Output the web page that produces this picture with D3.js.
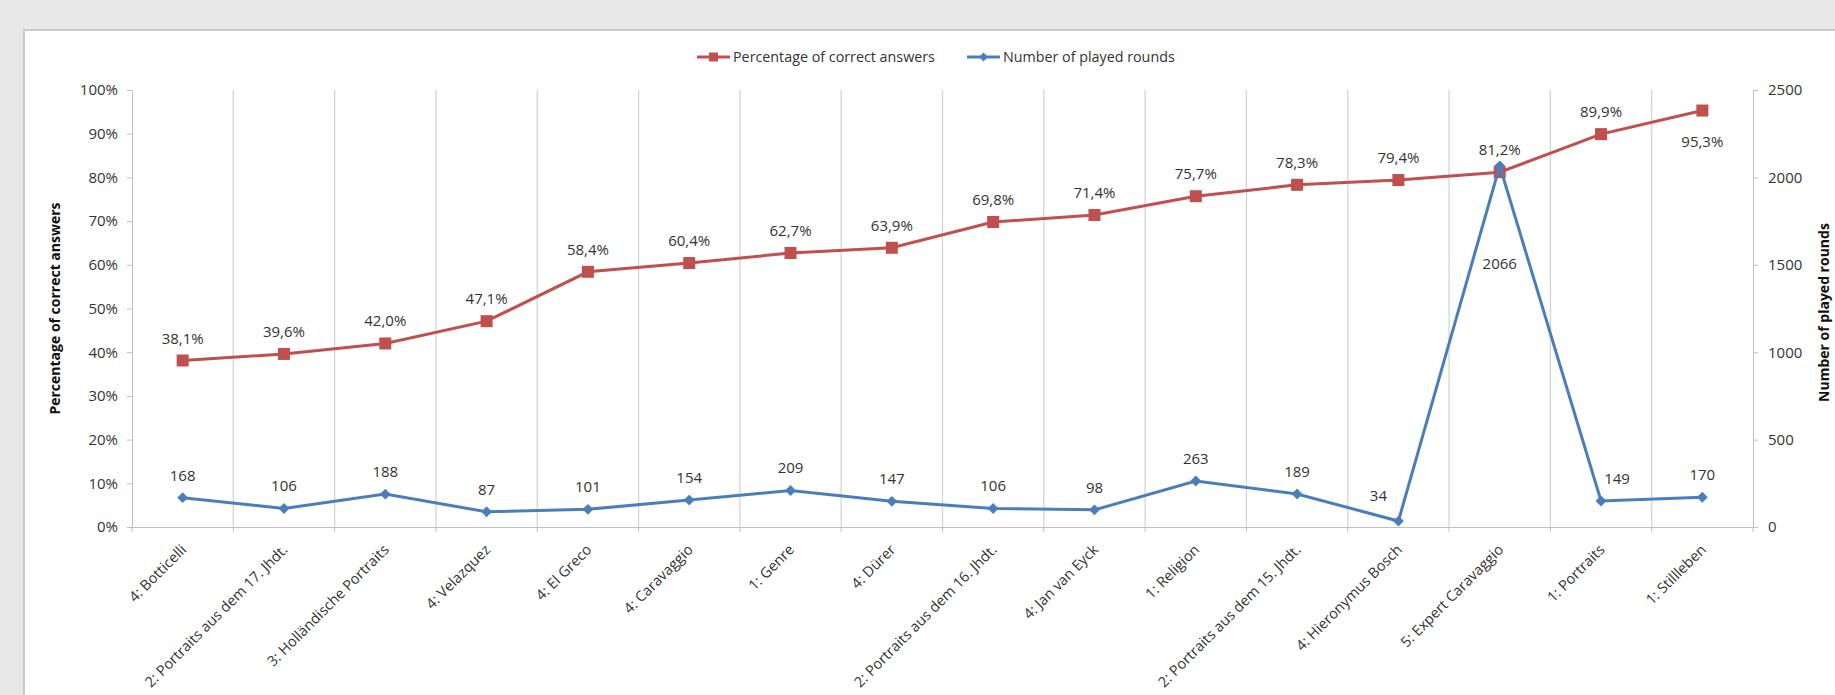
<!DOCTYPE html>
<html lang="en">
    <head>
        <title>Percentage of correct answers and number of played rounds</title>
        <meta charset="utf-8">
    </head>
    <body>
        <svg id="chart" width="1835" height="695"></svg>
    </body>
    <script src="https://d3js.org/d3.v7.min.js"></script>
    <style>
        body {
            margin: 0;
            background: #e8e8e8;
            font-family: 'Open Sans', sans-serif;
        }
        svg { display: block; }
        text {
            font-family: 'Open Sans', sans-serif;
            font-size: 14.5px;
            fill: #333;
        }
        .axis path, .axis line {
            stroke: #bfbfbf;
        }
        .axis text {
            font-size: 15px;
        }
        .axis.bottom text {
            font-size: 14.5px;
        }
        .grid line {
            stroke: #d4d4d4;
            stroke-width: 1.3;
        }
        text.title {
            font-weight: bold;
            font-size: 14px;
            fill: #111;
        }
        text.value {
            font-size: 15px;
            text-anchor: middle;
        }
        text.legend {
            font-size: 14.3px;
        }
    </style>
    <script>
        const categories = [
            '4: Botticelli', '2: Portraits aus dem 17. Jhdt.', '3: Holländische Portraits',
            '4: Velazquez', '4: El Greco', '4: Caravaggio', '1: Genre', '4: Dürer',
            '2: Portraits aus dem 16. Jhdt.', '4: Jan van Eyck', '1: Religion',
            '2: Portraits aus dem 15. Jhdt.', '4: Hieronymus Bosch', '5: Expert Caravaggio',
            '1: Portraits', '1: Stillleben'
        ];
        const correctPct = [38.1, 39.6, 42.0, 47.1, 58.4, 60.4, 62.7, 63.9,
                            69.8, 71.4, 75.7, 78.3, 79.4, 81.2, 89.9, 95.3];
        const playedRounds = [168, 106, 188, 87, 101, 154, 209, 147,
                              106, 98, 263, 189, 34, 2066, 149, 170];
        const pctTicks = [0, 10, 20, 30, 40, 50, 60, 70, 80, 90, 100];
        const roundTicks = [0, 500, 1000, 1500, 2000, 2500];

        const red = '#c0504d';
        const blue = '#4a7ebb';

        const svg = d3.select('#chart');

        // white card with a light border
        svg.append('rect')
            .attr('x', 24).attr('y', 30)
            .attr('width', 1835).attr('height', 700)
            .attr('fill', '#fff')
            .attr('stroke', '#cacaca')
            .attr('stroke-width', 2);

        const plotLeft = 132, plotRight = 1753, plotTop = 90, plotBottom = 527;

        const x = d3.scaleBand().domain(categories).range([plotLeft, plotRight]).padding(0);
        const yPct = d3.scaleLinear().domain([0, 100]).range([plotBottom, plotTop]);
        const yRounds = d3.scaleLinear().domain([0, 2500]).range([plotBottom, plotTop]);

        // vertical grid lines at category boundaries
        const bounds = categories.map(c => x(c)).concat([plotRight]);
        svg.append('g').attr('class', 'grid')
            .selectAll('line')
            .data(bounds.slice(1, -1))
            .enter().append('line')
            .attr('x1', d => d).attr('x2', d => d)
            .attr('y1', plotTop).attr('y2', plotBottom);

        // left axis
        const leftAxis = svg.append('g').attr('class', 'axis')
            .attr('transform', `translate(${plotLeft},0)`)
            .call(d3.axisLeft(yPct).tickValues(pctTicks).tickSize(5).tickSizeOuter(0)
                .tickFormat(d => d + '%'));
        leftAxis.selectAll('text').attr('x', -14);

        // right axis
        const rightAxis = svg.append('g').attr('class', 'axis')
            .attr('transform', `translate(${plotRight},0)`)
            .call(d3.axisRight(yRounds).tickValues(roundTicks).tickSize(5).tickSizeOuter(0)
                .tickFormat(d3.format('d')));
        rightAxis.selectAll('text').attr('x', 15);

        // bottom axis
        const bottomAxis = svg.append('g').attr('class', 'axis bottom')
            .attr('transform', `translate(0,${plotBottom})`)
            .call(d3.axisBottom(x).tickSize(0).tickSizeOuter(0));
        bottomAxis.selectAll('text')
            .attr('transform', 'translate(1,20) rotate(-45)')
            .attr('text-anchor', 'end')
            .attr('dy', '0.35em')
            .attr('x', 0).attr('y', 0);
        bottomAxis.append('g')
            .selectAll('line')
            .data(bounds)
            .enter().append('line')
            .attr('x1', d => d).attr('x2', d => d)
            .attr('y1', 0).attr('y2', 5);

        [leftAxis, rightAxis, bottomAxis].forEach(a => a.selectAll('text').attr('fill', '#333'));

        const cx = (d, i) => x(categories[i]) + x.bandwidth() / 2;

        // red series
        svg.append('path')
            .datum(correctPct)
            .attr('fill', 'none')
            .attr('stroke', red)
            .attr('stroke-width', 3)
            .attr('d', d3.line().x(cx).y(d => yPct(d)));
        svg.append('g').selectAll('rect')
            .data(correctPct)
            .enter().append('rect')
            .attr('x', (d, i) => cx(d, i) - 6)
            .attr('y', d => yPct(d) - 6)
            .attr('width', 12).attr('height', 12)
            .attr('fill', red);

        // blue series
        svg.append('path')
            .datum(playedRounds)
            .attr('fill', 'none')
            .attr('stroke', blue)
            .attr('stroke-width', 3)
            .attr('d', d3.line().x(cx).y(d => yRounds(d)));
        svg.append('g').selectAll('path')
            .data(playedRounds)
            .enter().append('path')
            .attr('d', d3.symbol().type(d3.symbolDiamond2).size(75))
            .attr('transform', (d, i) => `translate(${cx(d, i)},${yRounds(d)})`)
            .attr('fill', blue);

        // data labels; a few are moved the way the spreadsheet placed them
        const pctLabelShift = { 15: [0, 53] };
        const roundLabelShift = { 12: [-20, -3], 13: [0, 120], 14: [16, 0] };

        svg.append('g').selectAll('text')
            .data(correctPct)
            .enter().append('text')
            .attr('class', 'value')
            .attr('x', (d, i) => cx(d, i) + (pctLabelShift[i] ? pctLabelShift[i][0] : 0))
            .attr('y', (d, i) => yPct(d) - 17 + (pctLabelShift[i] ? pctLabelShift[i][1] : 0))
            .text(d => d.toFixed(1).replace('.', ',') + '%');

        svg.append('g').selectAll('text')
            .data(playedRounds)
            .enter().append('text')
            .attr('class', 'value')
            .attr('x', (d, i) => cx(d, i) + (roundLabelShift[i] ? roundLabelShift[i][0] : 0))
            .attr('y', (d, i) => yRounds(d) - 17 + (roundLabelShift[i] ? roundLabelShift[i][1] : 0))
            .text(d => d);

        // axis titles
        svg.append('text')
            .attr('class', 'title')
            .attr('transform', `translate(60,${(plotTop + plotBottom) / 2}) rotate(-90)`)
            .attr('text-anchor', 'middle')
            .text('Percentage of correct answers');
        svg.append('text')
            .attr('class', 'title')
            .attr('transform', `translate(1829,${(plotTop + plotBottom) / 2 + 4}) rotate(-90)`)
            .attr('text-anchor', 'middle')
            .text('Number of played rounds');

        // legend
        const legend = svg.append('g').attr('transform', 'translate(697,57)');
        legend.append('line').attr('x1', 0).attr('x2', 33).attr('stroke', red).attr('stroke-width', 3);
        legend.append('rect').attr('x', 12).attr('y', -4.5).attr('width', 9).attr('height', 9).attr('fill', red);
        legend.append('text').attr('class', 'legend').attr('x', 36).attr('dy', '0.35em')
            .text('Percentage of correct answers');
        legend.append('line').attr('x1', 270).attr('x2', 303).attr('stroke', blue).attr('stroke-width', 3);
        legend.append('path').attr('d', d3.symbol().type(d3.symbolDiamond2).size(50))
            .attr('transform', 'translate(286.5,0)').attr('fill', blue);
        legend.append('text').attr('class', 'legend').attr('x', 306).attr('dy', '0.35em')
            .text('Number of played rounds');
    </script>
</html>
